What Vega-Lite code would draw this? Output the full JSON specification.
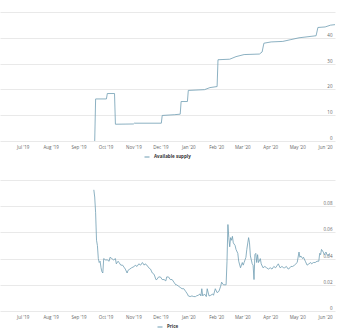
{
  "$schema": "https://vega.github.io/schema/vega-lite/v6.json",
  "padding": {"left": 0, "top": 12, "right": 5, "bottom": 0},
  "config": {
    "view": {"stroke": null},
    "font": "Open Sans",
    "axis": {"labelFont": "Open Sans", "labelFontSize": 4.5, "labelColor": "#666666", "gridColor": "#e3e3e3", "gridWidth": 0.8, "domain": false, "ticks": false, "title": null},
    "legend": {"orient": "bottom", "title": null, "symbolType": "stroke", "symbolSize": 25, "symbolStrokeWidth": 1, "labelFontSize": 4.5, "labelFontWeight": "bold", "labelColor": "#333333", "labelFont": "Open Sans", "offset": 5, "layout": {"bottom": {"anchor": "middle"}}}
  },
  "datasets": {
    "supply": [
      {"date": "2019-09-19", "supply": 0},
      {"date": "2019-09-20", "supply": 16.3},
      {"date": "2019-10-02", "supply": 16.3},
      {"date": "2019-10-03", "supply": 18.4},
      {"date": "2019-10-11", "supply": 18.4},
      {"date": "2019-10-12", "supply": 6.5},
      {"date": "2019-11-01", "supply": 6.6},
      {"date": "2019-11-02", "supply": 6.9},
      {"date": "2019-12-02", "supply": 6.9},
      {"date": "2019-12-03", "supply": 9.9},
      {"date": "2019-12-17", "supply": 10.2},
      {"date": "2019-12-23", "supply": 10.4},
      {"date": "2019-12-24", "supply": 15.3},
      {"date": "2019-12-31", "supply": 15.3},
      {"date": "2020-01-01", "supply": 19.6},
      {"date": "2020-01-19", "supply": 19.9},
      {"date": "2020-01-25", "supply": 20.7},
      {"date": "2020-02-02", "supply": 21.1},
      {"date": "2020-02-03", "supply": 31.5},
      {"date": "2020-02-16", "supply": 31.7},
      {"date": "2020-02-23", "supply": 32.7},
      {"date": "2020-03-03", "supply": 33.5},
      {"date": "2020-03-20", "supply": 33.7},
      {"date": "2020-03-23", "supply": 34.5},
      {"date": "2020-03-25", "supply": 37.9},
      {"date": "2020-04-02", "supply": 38.4},
      {"date": "2020-04-15", "supply": 38.6},
      {"date": "2020-04-24", "supply": 39.3},
      {"date": "2020-05-03", "supply": 40.0},
      {"date": "2020-05-22", "supply": 40.8},
      {"date": "2020-05-24", "supply": 44.0},
      {"date": "2020-06-01", "supply": 44.2},
      {"date": "2020-06-07", "supply": 44.9},
      {"date": "2020-06-12", "supply": 45.1}
    ],
    "price": [
      {"date": "2019-09-18", "price": 0.0925},
      {"date": "2019-09-19", "price": 0.087},
      {"date": "2019-09-20", "price": 0.075},
      {"date": "2019-09-21", "price": 0.054},
      {"date": "2019-09-22", "price": 0.05},
      {"date": "2019-09-23", "price": 0.04},
      {"date": "2019-09-24", "price": 0.037},
      {"date": "2019-09-25", "price": 0.038},
      {"date": "2019-09-26", "price": 0.033},
      {"date": "2019-09-27", "price": 0.030},
      {"date": "2019-09-28", "price": 0.029},
      {"date": "2019-09-29", "price": 0.040},
      {"date": "2019-10-01", "price": 0.039},
      {"date": "2019-10-03", "price": 0.039},
      {"date": "2019-10-05", "price": 0.038},
      {"date": "2019-10-06", "price": 0.041},
      {"date": "2019-10-08", "price": 0.040},
      {"date": "2019-10-10", "price": 0.039},
      {"date": "2019-10-12", "price": 0.040},
      {"date": "2019-10-13", "price": 0.036},
      {"date": "2019-10-15", "price": 0.038},
      {"date": "2019-10-16", "price": 0.037},
      {"date": "2019-10-18", "price": 0.035},
      {"date": "2019-10-20", "price": 0.035},
      {"date": "2019-10-22", "price": 0.033},
      {"date": "2019-10-23", "price": 0.032},
      {"date": "2019-10-25", "price": 0.029},
      {"date": "2019-10-26", "price": 0.031},
      {"date": "2019-10-28", "price": 0.032},
      {"date": "2019-10-30", "price": 0.033},
      {"date": "2019-11-02", "price": 0.034},
      {"date": "2019-11-03", "price": 0.035},
      {"date": "2019-11-05", "price": 0.034},
      {"date": "2019-11-07", "price": 0.036},
      {"date": "2019-11-09", "price": 0.035},
      {"date": "2019-11-11", "price": 0.037},
      {"date": "2019-11-13", "price": 0.035},
      {"date": "2019-11-14", "price": 0.036},
      {"date": "2019-11-16", "price": 0.035},
      {"date": "2019-11-18", "price": 0.033},
      {"date": "2019-11-20", "price": 0.032},
      {"date": "2019-11-22", "price": 0.029},
      {"date": "2019-11-24", "price": 0.028},
      {"date": "2019-11-26", "price": 0.024},
      {"date": "2019-11-27", "price": 0.024},
      {"date": "2019-11-29", "price": 0.026},
      {"date": "2019-12-01", "price": 0.026},
      {"date": "2019-12-03", "price": 0.024},
      {"date": "2019-12-05", "price": 0.024},
      {"date": "2019-12-07", "price": 0.023},
      {"date": "2019-12-08", "price": 0.026},
      {"date": "2019-12-10", "price": 0.026},
      {"date": "2019-12-12", "price": 0.024},
      {"date": "2019-12-14", "price": 0.024},
      {"date": "2019-12-16", "price": 0.022},
      {"date": "2019-12-18", "price": 0.020},
      {"date": "2019-12-19", "price": 0.020},
      {"date": "2019-12-21", "price": 0.019},
      {"date": "2019-12-23", "price": 0.018},
      {"date": "2019-12-25", "price": 0.017},
      {"date": "2019-12-27", "price": 0.017},
      {"date": "2019-12-29", "price": 0.015},
      {"date": "2019-12-31", "price": 0.013},
      {"date": "2020-01-01", "price": 0.0115},
      {"date": "2020-01-03", "price": 0.011},
      {"date": "2020-01-05", "price": 0.0115},
      {"date": "2020-01-07", "price": 0.011},
      {"date": "2020-01-09", "price": 0.011},
      {"date": "2020-01-10", "price": 0.0115},
      {"date": "2020-01-12", "price": 0.012},
      {"date": "2020-01-14", "price": 0.013},
      {"date": "2020-01-15", "price": 0.0115},
      {"date": "2020-01-16", "price": 0.017},
      {"date": "2020-01-17", "price": 0.0115},
      {"date": "2020-01-19", "price": 0.013},
      {"date": "2020-01-21", "price": 0.011},
      {"date": "2020-01-22", "price": 0.017},
      {"date": "2020-01-24", "price": 0.0115},
      {"date": "2020-01-26", "price": 0.012},
      {"date": "2020-01-28", "price": 0.013},
      {"date": "2020-01-29", "price": 0.012},
      {"date": "2020-01-31", "price": 0.017},
      {"date": "2020-02-02", "price": 0.014},
      {"date": "2020-02-04", "price": 0.015},
      {"date": "2020-02-06", "price": 0.019},
      {"date": "2020-02-07", "price": 0.022},
      {"date": "2020-02-09", "price": 0.020},
      {"date": "2020-02-11", "price": 0.020},
      {"date": "2020-02-12", "price": 0.020},
      {"date": "2020-02-13", "price": 0.038},
      {"date": "2020-02-14", "price": 0.066},
      {"date": "2020-02-15", "price": 0.056},
      {"date": "2020-02-16", "price": 0.049},
      {"date": "2020-02-17", "price": 0.056},
      {"date": "2020-02-18", "price": 0.054},
      {"date": "2020-02-19", "price": 0.057},
      {"date": "2020-02-20", "price": 0.052},
      {"date": "2020-02-22", "price": 0.050},
      {"date": "2020-02-23", "price": 0.047},
      {"date": "2020-02-25", "price": 0.044},
      {"date": "2020-02-26", "price": 0.038},
      {"date": "2020-02-28", "price": 0.033},
      {"date": "2020-03-01", "price": 0.037},
      {"date": "2020-03-02", "price": 0.035},
      {"date": "2020-03-03", "price": 0.037},
      {"date": "2020-03-05", "price": 0.041},
      {"date": "2020-03-06", "price": 0.047},
      {"date": "2020-03-08", "price": 0.056},
      {"date": "2020-03-09", "price": 0.052},
      {"date": "2020-03-10", "price": 0.042},
      {"date": "2020-03-12", "price": 0.036},
      {"date": "2020-03-13", "price": 0.035},
      {"date": "2020-03-14", "price": 0.024},
      {"date": "2020-03-15", "price": 0.043},
      {"date": "2020-03-16", "price": 0.044},
      {"date": "2020-03-17", "price": 0.037},
      {"date": "2020-03-18", "price": 0.043},
      {"date": "2020-03-19", "price": 0.037},
      {"date": "2020-03-21", "price": 0.040},
      {"date": "2020-03-22", "price": 0.036},
      {"date": "2020-03-24", "price": 0.033},
      {"date": "2020-03-26", "price": 0.034},
      {"date": "2020-03-28", "price": 0.033},
      {"date": "2020-03-30", "price": 0.032},
      {"date": "2020-04-01", "price": 0.033},
      {"date": "2020-04-03", "price": 0.032},
      {"date": "2020-04-05", "price": 0.034},
      {"date": "2020-04-07", "price": 0.033},
      {"date": "2020-04-09", "price": 0.035},
      {"date": "2020-04-10", "price": 0.036},
      {"date": "2020-04-12", "price": 0.033},
      {"date": "2020-04-14", "price": 0.034},
      {"date": "2020-04-16", "price": 0.033},
      {"date": "2020-04-17", "price": 0.033},
      {"date": "2020-04-19", "price": 0.034},
      {"date": "2020-04-21", "price": 0.032},
      {"date": "2020-04-23", "price": 0.033},
      {"date": "2020-04-24", "price": 0.034},
      {"date": "2020-04-26", "price": 0.034},
      {"date": "2020-04-28", "price": 0.035},
      {"date": "2020-05-01", "price": 0.037},
      {"date": "2020-05-03", "price": 0.045},
      {"date": "2020-05-04", "price": 0.041},
      {"date": "2020-05-05", "price": 0.042},
      {"date": "2020-05-07", "price": 0.040},
      {"date": "2020-05-08", "price": 0.041},
      {"date": "2020-05-10", "price": 0.038},
      {"date": "2020-05-12", "price": 0.035},
      {"date": "2020-05-14", "price": 0.036},
      {"date": "2020-05-16", "price": 0.037},
      {"date": "2020-05-17", "price": 0.036},
      {"date": "2020-05-19", "price": 0.037},
      {"date": "2020-05-21", "price": 0.037},
      {"date": "2020-05-23", "price": 0.038},
      {"date": "2020-05-25", "price": 0.038},
      {"date": "2020-05-26", "price": 0.044},
      {"date": "2020-05-27", "price": 0.043},
      {"date": "2020-05-28", "price": 0.047},
      {"date": "2020-05-30", "price": 0.045},
      {"date": "2020-05-31", "price": 0.043},
      {"date": "2020-06-02", "price": 0.045},
      {"date": "2020-06-03", "price": 0.043},
      {"date": "2020-06-05", "price": 0.042},
      {"date": "2020-06-06", "price": 0.044}
    ]
  },
  "spacing": 21,
  "resolve": {"scale": {"color": "independent"}, "legend": {"color": "independent"}},
  "vconcat": [
    {
      "width": 335,
      "height": 129,
      "data": {"name": "supply"},
      "mark": {"type": "line", "strokeWidth": 0.8},
      "encoding": {
        "x": {"field": "date", "type": "temporal",
          "scale": {"domain": [{"year": 2019, "month": 6, "date": 5, "hours": 18}, {"year": 2020, "month": 6, "date": 12}]},
          "axis": {"format": "%b '%y", "grid": false, "tickCount": {"interval": "month", "step": 1}, "labelPadding": 3, "labelFlush": false, "labelOverlap": false}},
        "y": {"field": "supply", "type": "quantitative",
          "scale": {"domain": [0, 50], "nice": false},
          "axis": {"orient": "right", "grid": true, "values": [0, 10, 20, 30, 40, 50], "labelAlign": "right", "labelPadding": -3, "labelBaseline": "bottom", "labelOffset": -0.5, "labelExpr": "datum.value == 50 ? '' : datum.label"}},
        "color": {"datum": "Available supply", "type": "nominal", "scale": {"range": ["#6f9db3"]}}
      }
    },
    {
      "width": 335,
      "height": 131,
      "data": {"name": "price"},
      "mark": {"type": "line", "strokeWidth": 0.8},
      "encoding": {
        "x": {"field": "date", "type": "temporal",
          "scale": {"domain": [{"year": 2019, "month": 6, "date": 5, "hours": 18}, {"year": 2020, "month": 6, "date": 12}]},
          "axis": {"format": "%b '%y", "grid": false, "tickCount": {"interval": "month", "step": 1}, "labelPadding": 3, "labelFlush": false, "labelOverlap": false}},
        "y": {"field": "price", "type": "quantitative",
          "scale": {"domain": [0, 0.1], "nice": false},
          "axis": {"orient": "right", "grid": true, "values": [0, 0.02, 0.04, 0.06, 0.08, 0.1], "labelAlign": "right", "labelPadding": -3, "labelBaseline": "bottom", "labelOffset": -0.5, "labelExpr": "datum.value == 0.1 ? '' : datum.value == 0 ? '0' : format(datum.value, '.2f')"}},
        "color": {"datum": "Price", "type": "nominal", "scale": {"range": ["#6f9db3"]}}
      }
    }
  ]
}
